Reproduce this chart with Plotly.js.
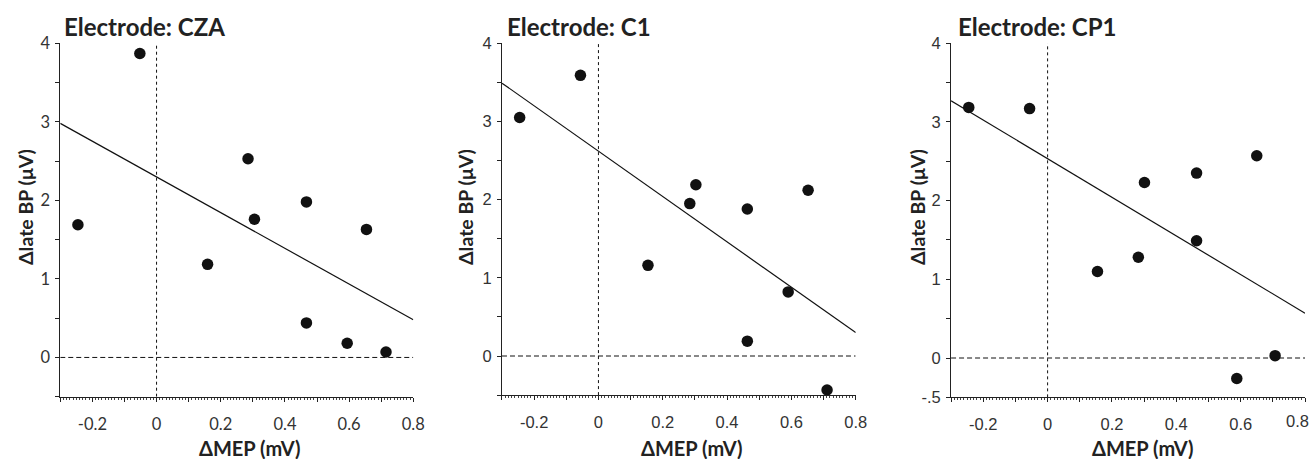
<!DOCTYPE html>
<html>
<head>
<meta charset="utf-8">
<script src="https://cdn.plot.ly/plotly-3.0.1.min.js"></script>
<style>html,body{margin:0;padding:0;background:#fff;}#chart{width:1310px;height:459px;}</style>
</head>
<body>
<div id="chart"></div>
<script>
// Panel titles
const electrodes = ["CZA", "C1", "CP1"];

// ΔMEP (mV) / Δlate BP (μV) values per electrode
const czaX = [-0.245, -0.052, 0.159, 0.285, 0.305, 0.467, 0.467, 0.654, 0.594, 0.715];
const czaY = [1.69, 3.87, 1.185, 2.53, 1.76, 1.98, 0.44, 1.63, 0.18, 0.07];

const c1X = [-0.245, -0.056, 0.154, 0.284, 0.303, 0.463, 0.463, 0.652, 0.590, 0.711];
const c1Y = [3.05, 3.59, 1.16, 1.95, 2.19, 1.88, 0.19, 2.12, 0.82, -0.435];

const cp1X = [-0.245, -0.056, 0.155, 0.282, 0.301, 0.463, 0.463, 0.650, 0.588, 0.707];
const cp1Y = [3.185, 3.17, 1.10, 1.28, 2.23, 2.35, 1.49, 2.57, -0.26, 0.03];

// Regression line endpoints
const fitX = [-0.3, 0.8];
const czaFitY = [2.98, 0.48];
const c1FitY = [3.49, 0.30];
const cp1FitY = [3.27, 0.57];

// Tick values / labels
const xTickVals = [-0.3, -0.2, -0.1, 0, 0.1, 0.2, 0.3, 0.4, 0.5, 0.6, 0.7, 0.8];
const xTickText = ["", "-0.2", "", "0", "", "0.2", "", "0.4", "", "0.6", "", "0.8"];
const yTickVals = [-0.5, 0, 0.5, 1, 1.5, 2, 2.5, 3, 3.5, 4];
const yTickTextA = ["", "0", "", "1", "", "2", "", "3", "", "4"];
const yTickTextB = ["-.5", "0", "", "1", "", "2", "", "3", "", "4"];

const xTitle = "ΔMEP (mV)";
const yTitle = "Δlate BP (μV)";

const narrow = "'Liberation Sans Narrow', 'Liberation Sans', Arial, sans-serif";
const panels = [
  {x: czaX, y: czaY, fy: czaFitY, yt: yTickTextA, font: "Lato, 'Open Sans', sans-serif"},
  {x: c1X, y: c1Y, fy: c1FitY, yt: yTickTextA, font: narrow},
  {x: cp1X, y: cp1Y, fy: cp1FitY, yt: yTickTextB, font: narrow}
];

const xDomains = [[0.0460, 0.3155], [0.3832, 0.6532], [0.7260, 0.9962]];
const yDomains = [[0.1357, 0.9057], [0.1392, 0.9057], [0.1343, 0.9057]];
const titleX = [0.0475, 0.3855, 0.7295];
const xTitleX = [0.1908, 0.5282, 0.8725];
const yTitleX = [0.0191, 0.355, 0.700];

const data = [];
const layout = {
  width: 1310, height: 459,
  margin: {l: 0, r: 0, t: 0, b: 0},
  paper_bgcolor: "#fff", plot_bgcolor: "#fff",
  showlegend: false,
  annotations: [], shapes: []
};

panels.forEach((p, i) => {
  const n = i === 0 ? "" : String(i + 1);
  const xa = "x" + n, ya = "y" + n;
  data.push({
    x: fitX, y: p.fy, xaxis: xa, yaxis: ya, type: "scatter", mode: "lines",
    line: {color: "#111", width: 1.2}, hoverinfo: "skip"
  });
  data.push({
    x: p.x, y: p.y, xaxis: xa, yaxis: ya, type: "scatter", mode: "markers",
    marker: {color: "#111", size: 11.5}, cliponaxis: false
  });
  layout["xaxis" + n] = {
    domain: xDomains[i], anchor: ya, range: [-0.3, 0.8],
    showgrid: false, zeroline: false, showline: true, linecolor: "#222", linewidth: 1,
    tickmode: "array", tickvals: xTickVals, ticktext: xTickText,
    ticks: "outside", ticklen: 4, tickcolor: "#222", tickwidth: 1,
    ticklabelstandoff: 8,
    minor: {dtick: 0.01, ticks: "outside", ticklen: 2, tickcolor: "#444", tickwidth: 1, showgrid: false},
    tickfont: {family: p.font, size: 16.5, color: "#333"},
    fixedrange: true
  };
  layout["yaxis" + n] = {
    domain: yDomains[i], anchor: xa, range: [-0.5, 4],
    showgrid: false, zeroline: false, showline: true, linecolor: "#222", linewidth: 1,
    tickmode: "array", tickvals: yTickVals, ticktext: p.yt,
    ticks: "outside", ticklen: 4, tickcolor: "#222", tickwidth: 1,
    ticklabelstandoff: 2,
    tickfont: {family: p.font, size: 16.5, color: "#333"},
    fixedrange: true
  };
  // dashed reference lines
  layout.shapes.push({type: "line", xref: xa, yref: ya, x0: 0, x1: 0, y0: -0.5, y1: 4,
    line: {color: "#111", width: 1, dash: "3px,3px"}});
  layout.shapes.push({type: "line", xref: xa, yref: ya, x0: -0.3, x1: 0.8, y0: 0, y1: 0,
    line: {color: "#111", width: 1, dash: "5px,3px"}});
  // panel title
  layout.annotations.push({
    text: "<b>Electrode: " + electrodes[i] + "</b>", xref: "paper", yref: "paper",
    x: titleX[i], y: 0.943, xanchor: "left", yanchor: "middle", showarrow: false,
    font: {family: "Lato, 'Open Sans', sans-serif", size: 24, color: "#222"}
  });
  layout.annotations.push({
    text: "<b>" + xTitle + "</b>", xref: "paper", yref: "paper",
    x: xTitleX[i], y: 0.024, xanchor: "center", yanchor: "middle", showarrow: false,
    font: {family: "Lato, 'Open Sans', sans-serif", size: 20, color: "#222"}
  });
  layout.annotations.push({
    text: "<b>" + yTitle + "</b>", xref: "paper", yref: "paper",
    x: yTitleX[i], y: 0.549, xanchor: "center", yanchor: "middle", showarrow: false,
    textangle: -90,
    font: {family: "Lato, 'Open Sans', sans-serif", size: 19.5, color: "#222"}
  });
});

// last panel: the 0.8 label sits against the right edge of the figure
layout.annotations.push({
  text: xTickText[xTickText.length - 1], xref: "paper", yref: "paper",
  x: 1.0, y: 0.0828, xanchor: "right", yanchor: "middle",
  showarrow: false, borderpad: 0, font: {family: narrow, size: 16.5, color: "#333"}
});

Plotly.newPlot("chart", data, layout, {staticPlot: true, displayModeBar: false});
</script>
</body>
</html>
